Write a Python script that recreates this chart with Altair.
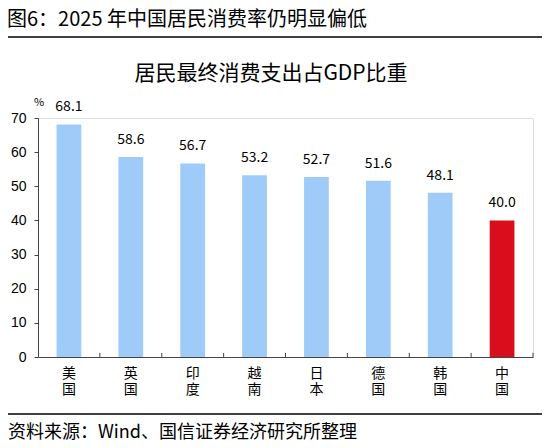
import altair as alt
import pandas as pd

countries = ["美国", "英国", "印度", "越南", "日本", "德国", "韩国", "中国"]
values = [68.1, 58.6, 56.7, 53.2, 52.7, 51.6, 48.1, 40.0]
colors = ["#9ECBF8"] * 7 + ["#D90E1C"]
yticks = [0, 10, 20, 30, 40, 50, 60, 70]
boundaries = [1, 2, 3, 4, 5, 6, 7, 8]

fig_title = "图6：2025 年中国居民消费率仍明显偏低"
chart_title = "居民最终消费支出占GDP比重"
source = "资料来源：Wind、国信证券经济研究所整理"

df = pd.DataFrame({"c": countries, "v": values, "col": colors,
                   "lab": [f"{v:.1f}" for v in values]})

W, H = 495, 239
FONT = "Noto Sans CJK SC"

xs = alt.Scale(domain=countries, paddingInner=0.6, paddingOuter=0.3)
ys = alt.Scale(domain=[0, 70], nice=False)

xaxis = alt.Axis(title=None, labelAngle=0, ticks=False,
                 labelExpr="split(datum.label, '')",
                 labelFont=FONT, labelFontSize=14, labelColor="#000",
                 labelLineHeight=16, labelPadding=9,
                 domainColor="#444", domainWidth=1)
yaxis = alt.Axis(title=None, values=yticks, grid=False,
                 labelOverlap=False,
                 labelFont="Liberation Sans", labelFontSize=14,
                 labelColor="#000", tickSize=4, tickColor="#444",
                 domainColor="#444", labelPadding=8)

base = alt.Chart(df)

bars = base.mark_bar().encode(
    x=alt.X("c:N", scale=xs, sort=countries, axis=xaxis),
    y=alt.Y("v:Q", scale=ys, axis=yaxis),
    color=alt.Color("col:N", scale=None),
)

labels = base.mark_text(dy=-17, font=FONT, fontSize=14, color="#000").encode(
    x=alt.X("c:N", scale=xs, sort=countries, axis=xaxis),
    y=alt.Y("v:Q", scale=ys, axis=yaxis),
    text="lab:N",
)

main = alt.layer(bars, labels)

tick_df = pd.DataFrame({"b": boundaries, "y0": [0] * 8, "y1": [1.2] * 8})
ticks = alt.Chart(tick_df).mark_rule(color="#444").encode(
    x=alt.X("b:Q", scale=alt.Scale(domain=[0, 8], nice=False), axis=None),
    y=alt.Y("y0:Q", scale=ys, axis=yaxis),
    y2="y1:Q",
)

# decorative texts / lines
t1 = alt.Chart(pd.DataFrame({"t": [fig_title]})).mark_text(
    align="left", baseline="middle", font=FONT, fontSize=20, color="#000").encode(
    x=alt.value(-31), y=alt.value(-98), text="t:N")
t2 = alt.Chart(pd.DataFrame({"t": [chart_title]})).mark_text(
    align="center", baseline="middle", font=FONT, fontSize=21, color="#000").encode(
    x=alt.value(233), y=alt.value(-44), text="t:N")
pct = alt.Chart(pd.DataFrame({"t": ["%"]})).mark_text(
    align="center", baseline="middle", font=FONT, fontSize=11, color="#000").encode(
    x=alt.value(1), y=alt.value(-15), text="t:N")
src = alt.Chart(pd.DataFrame({"t": [source]})).mark_text(
    align="left", baseline="middle", font=FONT, fontSize=18, color="#000").encode(
    x=alt.value(-30), y=alt.value(315), text="t:N")
line1 = alt.Chart(pd.DataFrame({"a": [0]})).mark_rule(color="#000", strokeWidth=1.5).encode(
    x=alt.value(-32), x2=alt.value(506), y=alt.value(-81))
line2 = alt.Chart(pd.DataFrame({"a": [0]})).mark_rule(color="#000", strokeWidth=1.5).encode(
    x=alt.value(-32), x2=alt.value(506), y=alt.value(296))

chart = alt.layer(main, ticks, t1, t2, pct, src, line1, line2).resolve_scale(
    x="independent"
).properties(
    width=W, height=H,
    padding={"left": 30, "top": 110, "right": 9, "bottom": 83},
    autosize=alt.AutoSizeParams(type="none"),
).configure_view(stroke=None).configure(background="white")

chart.save("out.html", embed_options={"renderer": "svg", "actions": False})
